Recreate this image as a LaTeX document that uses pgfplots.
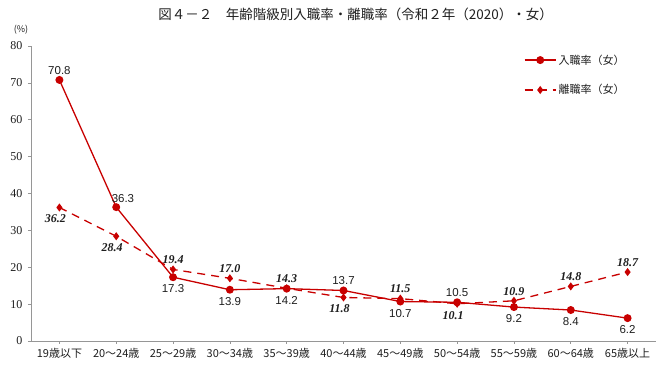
\documentclass[border=0pt]{standalone}
\usepackage{fontspec}
\setmainfont{Liberation Sans}
\newfontfamily\cjk{Noto Sans CJK JP}
\newfontfamily\serifnum{Liberation Serif}
\usepackage{pgfplots}
\usetikzlibrary{calc}
\pgfplotsset{compat=1.18}
\definecolor{dred}{RGB}{200,0,0}
\definecolor{axgray}{RGB}{150,150,150}
\definecolor{txt}{RGB}{30,30,30}

\pgfplotsset{
  lblA/.style={draw=none, mark=none, forget plot,
    nodes near coords={\pgfmathprintnumber[fixed,fixed zerofill,precision=1]{\pgfplotspointmeta}},
    every node near coord/.style={font=\fontsize{11.5}{12}\selectfont, text=txt}},
  lblB/.style={draw=none, mark=none, forget plot,
    nodes near coords={\pgfmathprintnumber[fixed,fixed zerofill,precision=1]{\pgfplotspointmeta}},
    every node near coord/.style={font=\serifnum\bfseries\itshape\fontsize{12}{12}\selectfont, text=txt}},
}

\begin{document}
\begin{tikzpicture}
\useasboundingbox (-31pt,-31pt) rectangle (631pt,341pt);
\begin{axis}[
  scale only axis, width=625pt, height=295pt,
  xmin=-0.5, xmax=10.5, ymin=0, ymax=80,
  clip=false,
  axis lines*=left,
  axis line style={axgray, line width=0.8pt},
  tick style={axgray, line width=0.6pt},
  major tick length=3pt,
  tick align=outside,
  xtick={0,...,10},
  xticklabels={19歳以下,20～24歳,25～29歳,30～34歳,35～39歳,40～44歳,45～49歳,50～54歳,55～59歳,60～64歳,65歳以上},
  xticklabel style={font=\cjk\fontsize{11}{12}\selectfont, text=txt, yshift=-1pt},
  ytick={0,10,...,80},
  yticklabel style={font=\serifnum\fontsize{12}{12}\selectfont, text=txt, xshift=-2pt},
  /pgf/number format/assume math mode=true,
  legend style={at={(axis description cs:0.958,0.985)}, anchor=north east, draw=none, fill=none,
    font=\cjk\fontsize{11}{12}\selectfont, text=txt, row sep=15pt, cells={anchor=west}},
  legend image code/.code={\draw[mark repeat=2,mark phase=2,#1] plot coordinates {(0cm,0cm) (0.55cm,0cm) (1.1cm,0cm)};},
]
\addplot[color=dred, line width=1.3pt, mark=*, mark size=3.3pt, mark options={solid, fill=dred}]
  coordinates {(0,70.8) (1,36.3) (2,17.3) (3,13.9) (4,14.2) (5,13.7) (6,10.7) (7,10.5) (8,9.2) (9,8.4) (10,6.2)};
\addlegendentry{入職率（女）}
\addplot[color=dred, line width=1.3pt, dash pattern=on 8pt off 6pt, mark=diamond*, mark size=3pt, mark options={solid, fill=dred}]
  coordinates {(0,36.2) (1,28.4) (2,19.4) (3,17.0) (4,14.3) (5,11.8) (6,11.5) (7,10.1) (8,10.9) (9,14.8) (10,18.7)};
\addlegendentry{離職率（女）}
% labels, series A
\addplot[lblA, every node near coord/.append style={anchor=south, yshift=2pt}]
  coordinates {(0,70.8) (5,13.7) (7,10.5)};
\addplot[lblA, every node near coord/.append style={anchor=south west, yshift=1pt, xshift=-8pt}]
  coordinates {(1,36.3)};
\addplot[lblA, every node near coord/.append style={anchor=north, yshift=-4pt}]
  coordinates {(2,17.3) (3,13.9) (4,14.2) (6,10.7) (8,9.2) (9,8.4) (10,6.2)};
% labels, series B
\addplot[lblB, every node near coord/.append style={anchor=south, yshift=2pt}]
  coordinates {(2,19.4) (3,17.0) (4,14.3) (6,11.5) (8,10.9) (9,14.8) (10,18.7)};
\addplot[lblB, every node near coord/.append style={anchor=north, yshift=-4pt, xshift=-4pt}]
  coordinates {(0,36.2) (1,28.4) (5,11.8) (7,10.1)};
\node[font=\cjk\fontsize{13.5}{15}\selectfont, text=txt] at ($(axis description cs:0.474,1)+(0,32pt)$) {図４－２　年齢階級別入職率・離職率（令和２年（2020）・女）};
\node[font=\cjk\fontsize{9}{9}\selectfont, text=txt] at ($(axis description cs:0,1)+(-10pt,16pt)$) {(\%)};
\end{axis}
\end{tikzpicture}
\end{document}
